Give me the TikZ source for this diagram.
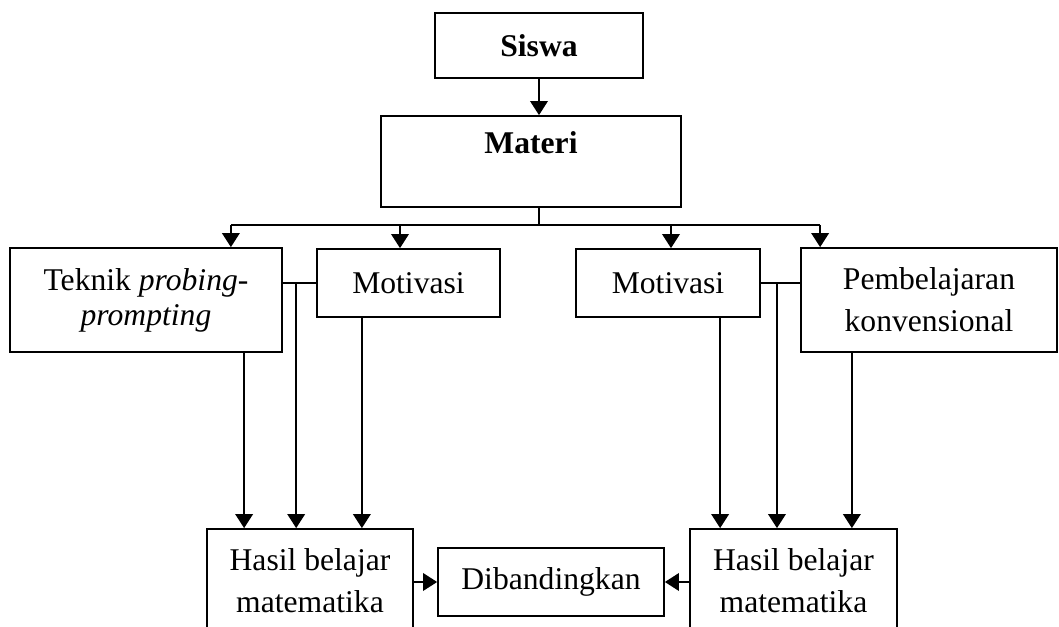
\documentclass[tikz,border=0pt]{standalone}
\usepackage{fontspec}
\setmainfont{Liberation Serif}
\usetikzlibrary{arrows.meta,calc}
\tikzset{
  box/.style={rectangle, draw=black, line width=1pt, inner sep=2pt,
              align=center, font=\fontsize{18}{20}\selectfont},
  arr/.style={-{Triangle[width=10pt,length=8pt]}, line width=1pt},
  link/.style={line width=1pt},
}
\begin{document}
\begin{tikzpicture}
  \useasboundingbox (0,0) rectangle (21.18,-12.54);
  % Top boxes
  \node[box, minimum width=4.16cm, minimum height=1.30cm] (siswa) at (10.78,-0.91) {\textbf{Siswa}};
  \node[box, minimum width=6.00cm, minimum height=1.82cm] (materi) at (10.62,-3.23) {\textbf{Materi}\\[2pt]~};
  % Middle row
  \node[box, minimum width=5.44cm, minimum height=2.08cm] (teknik) at (2.92,-6.00) {Teknik \textit{probing-}\\\textit{prompting}};
  \node[box, minimum width=3.66cm, minimum height=1.36cm] (motivA) at (8.17,-5.66) {Motivasi};
  \node[box, minimum width=3.68cm, minimum height=1.36cm] (motivB) at (13.36,-5.66) {Motivasi};
  \node[box, minimum width=5.12cm, minimum height=2.08cm] (pemb) at (18.58,-6.00) {Pembelajaran\\[4pt]konvensional};
  % Bottom row
  \node[box, minimum width=4.12cm, minimum height=2.08cm] (hasilA) at (6.20,-11.62) {Hasil belajar\\[4pt]matematika};
  \node[box, minimum width=4.52cm, minimum height=1.36cm] (banding) at (11.02,-11.64) {Dibandingkan};
  \node[box, minimum width=4.14cm, minimum height=2.08cm] (hasilB) at (15.87,-11.62) {Hasil belajar\\[4pt]matematika};
  % Siswa to materi, then the bus
  \draw[arr] (siswa.south) -- (siswa.south |- materi.north);
  \coordinate (bus) at (10.78,-4.50);
  \draw[link] (siswa.south |- materi.south) -- (bus);
  \coordinate (busL) at ([xshift=-1.04cm]teknik.north east |- bus);
  \coordinate (busR) at ([xshift=0.40cm]pemb.north west |- bus);
  \draw[link] (busL) -- (busR);
  \draw[arr] (busL) -- (busL |- teknik.north);
  \draw[arr] ([xshift=-0.17cm]motivA.north |- bus) -- ([xshift=-0.17cm]motivA.north);
  \draw[arr] ([xshift=0.06cm]motivB.north |- bus) -- ([xshift=0.06cm]motivB.north);
  \draw[arr] (busR) -- (busR |- pemb.north);
  % Left branch
  \draw[link] (teknik.east |- motivA.west) -- (motivA.west);
  \coordinate (jA) at ($(teknik.east |- motivA.west)!0.4!(motivA.west)$);
  \draw[arr] ([xshift=0.76cm]hasilA.north west |- teknik.south) -- ([xshift=0.76cm]hasilA.north west);
  \draw[arr] (jA) -- (jA |- hasilA.north);
  \draw[arr] ([xshift=-1.04cm]hasilA.north east |- motivA.south) -- ([xshift=-1.04cm]hasilA.north east);
  % Right branch
  \draw[link] (motivB.east) -- (pemb.west |- motivB.east);
  \coordinate (jB) at ($(motivB.east)!0.41!(pemb.west |- motivB.east)$);
  \draw[arr] ([xshift=0.62cm]hasilB.north west |- motivB.south) -- ([xshift=0.62cm]hasilB.north west);
  \draw[arr] (jB) -- (jB |- hasilB.north);
  \draw[arr] ([xshift=-0.92cm]hasilB.north east |- pemb.south) -- ([xshift=-0.92cm]hasilB.north east);
  % Comparison
  \draw[arr] (hasilA.east |- banding.west) -- (banding.west);
  \draw[arr] (hasilB.west |- banding.east) -- (banding.east);
\end{tikzpicture}
\end{document}
